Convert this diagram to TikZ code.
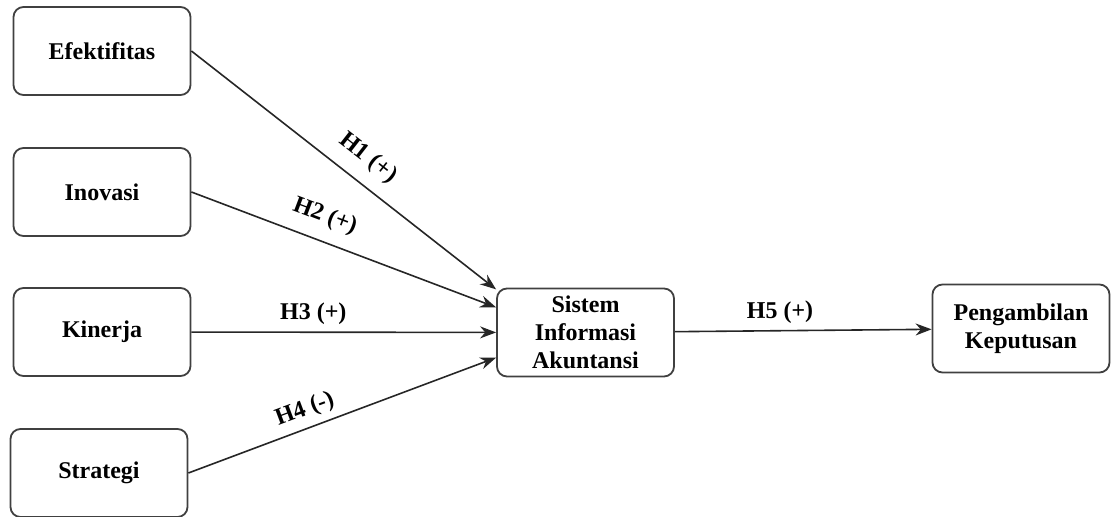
\documentclass[tikz,border=0pt]{standalone}
\usepackage{fontspec}
\setmainfont{Liberation Serif}
\usetikzlibrary{arrows.meta,calc}
\begin{document}
\begin{tikzpicture}[x=0.5pt, y=-0.5pt,
        box/.style={draw=black!75, line width=0.9pt, rounded corners=5pt,
            minimum width=88.5pt, minimum height=44pt, align=center,
            font=\fontsize{12}{14}\selectfont\bfseries},
        link/.style={draw=black!85, line width=0.8pt, -{Stealth[length=8pt, width=6pt]}},
        hyp/.style={font=\fontsize{12}{14}\selectfont\bfseries, sloped}]
            \useasboundingbox (0, 0) rectangle (1114, 517);
            \node[box] (x1) at (102, 51) {Efektifitas};
            \node[box] (x2) at (102, 192) {Inovasi};
            \node[box] (x3) at (102, 332) {Kinerja};
            \node[box] (x4) at (99, 473) {Strategi};
            \node[box] (y) at (585.5, 332.5) {Sistem\\Informasi\\Akuntansi};
            \node[box] (z) at (1021, 328.5) {Pengambilan\\Keputusan};
            \draw[link] (x1.east) -- ($(y.north west)!0.02!(y.south west)$)
                node[hyp, pos=0.53, above=3pt] (h1) {H1 (+)};
            \draw[link] (x2.east) -- ($(y.north west)!0.22!(y.south west)$)
                node[hyp, pos=0.41, above=3pt] (h2) {H2 (+)};
            \draw[link] (x3) -- (y)
                node[hyp, pos=0.4, above] (h3) {H3 (+)};
            \draw[link] (x4.east) -- ($(y.north west)!0.78!(y.south west)$)
                node[hyp, pos=0.4, above] (h4) {H4 (-)};
            \draw[link] (y) -- (z)
                node[hyp, pos=0.41, above] (h5) {H5 (+)};
        \end{tikzpicture}
\end{document}
